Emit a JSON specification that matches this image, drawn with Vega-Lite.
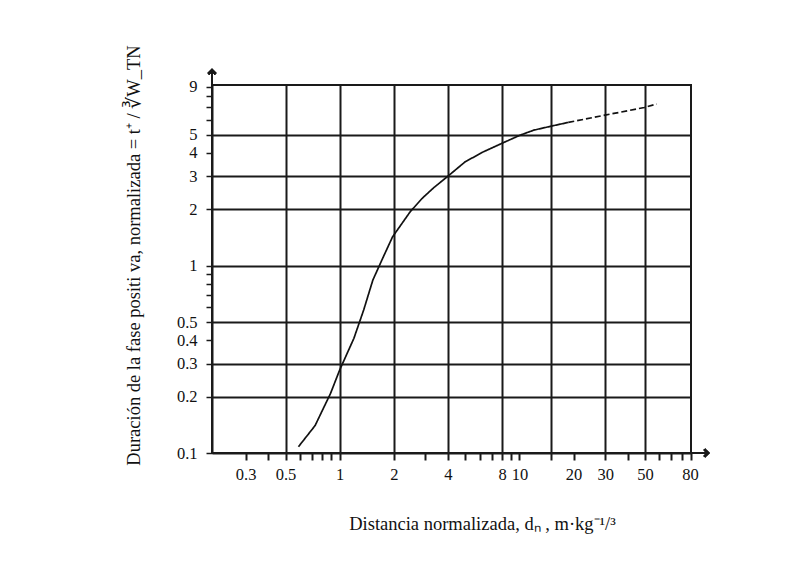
{
  "$schema": "https://vega.github.io/schema/vega-lite/v6.json",
  "width": 479,
  "height": 368,
  "autosize": {"type": "none"},
  "padding": {"left": 212, "top": 85, "right": 96, "bottom": 116},
  "background": "white",
  "config": {
    "view": {"stroke": "#1a1a1a", "strokeWidth": 2},
    "font": "Liberation Serif",
    "axis": {"domainColor": "#1a1a1a", "domainWidth": 2, "tickColor": "#1a1a1a", "gridColor": "#1a1a1a", "labelColor": "#111", "titleColor": "#111", "labelFont": "Liberation Serif", "titleFont": "Liberation Serif", "titleFontWeight": "normal"}
  },
  "datasets": {
    "curva": [
      {"d": 0.59, "t": 0.108, "tramo": "medido"},
      {"d": 0.73, "t": 0.14, "tramo": "medido"},
      {"d": 0.89, "t": 0.208, "tramo": "medido"},
      {"d": 1.0, "t": 0.277, "tramo": "medido"},
      {"d": 1.2, "t": 0.409, "tramo": "medido"},
      {"d": 1.36, "t": 0.579, "tramo": "medido"},
      {"d": 1.53, "t": 0.837, "tramo": "medido"},
      {"d": 1.75, "t": 1.114, "tramo": "medido"},
      {"d": 1.97, "t": 1.425, "tramo": "medido"},
      {"d": 2.47, "t": 1.94, "tramo": "medido"},
      {"d": 2.87, "t": 2.28, "tramo": "medido"},
      {"d": 3.33, "t": 2.6, "tramo": "medido"},
      {"d": 4.0, "t": 3.0, "tramo": "medido"},
      {"d": 4.99, "t": 3.58, "tramo": "medido"},
      {"d": 6.31, "t": 4.05, "tramo": "medido"},
      {"d": 7.98, "t": 4.49, "tramo": "medido"},
      {"d": 10.0, "t": 4.95, "tramo": "medido"},
      {"d": 12.0, "t": 5.28, "tramo": "medido"},
      {"d": 15.3, "t": 5.57, "tramo": "medido"},
      {"d": 18.7, "t": 5.81, "tramo": "medido"},
      {"d": 18.7, "t": 5.81, "tramo": "extrapolado"},
      {"d": 29.9, "t": 6.35, "tramo": "extrapolado"},
      {"d": 49.5, "t": 6.98, "tramo": "extrapolado"},
      {"d": 58, "t": 7.28, "tramo": "extrapolado"}
    ]
  },
  "data": {"name": "curva"},
  "resolve": {"axis": {"x": "independent", "y": "independent"}},
  "layer": [
    {
      "mark": {"type": "point", "opacity": 0},
      "encoding": {
        "x": {"field": "d", "type": "quantitative", "scale": {"type": "log", "domain": [0.195, 90], "nice": false},
          "axis": {"orient": "bottom", "grid": true, "gridWidth": 2, "values": [0.5, 1, 2, 4, 8, 15, 30, 50], "ticks": false, "labels": false, "domain": false, "title": null}},
        "y": {"field": "t", "type": "quantitative", "scale": {"type": "log", "domain": [0.1, 9.2], "nice": false},
          "axis": {"orient": "left", "grid": true, "gridWidth": 2, "values": [0.2, 0.3, 0.5, 1, 2, 3, 5], "ticks": false, "labels": false, "domain": false, "title": null}}
      }
    },
    {
      "mark": {"type": "line", "color": "#111", "strokeWidth": 1.7},
      "encoding": {
        "x": {"field": "d", "type": "quantitative",
          "axis": {"orient": "bottom", "grid": false, "values": [0.3, 0.4, 0.5, 0.6, 0.7, 0.8, 0.9, 1, 2, 3, 4, 5, 6, 7, 8, 9, 10, 15, 20, 30, 40, 50, 60, 70, 80, 90],
            "labelExpr": "indexof([0.3, 0.5, 1, 2, 4, 8, 10, 20, 30, 50, 80], datum.value) >= 0 ? '' + datum.value : ''",
            "labelOverlap": false, "labelFlush": false, "labelBound": false,
            "labelAlign": {"condition": {"test": "datum.value == 80", "value": "left"}, "value": "center"},
            "tickSize": 7, "tickWidth": 2, "labelPadding": 6, "labelFontSize": 16.5,
            "title": "Distancia normalizada,  dₙ ,  m·kg⁻¹/³", "titleFontSize": 18.5,
            "titleX": 270, "titleY": 70, "titleBaseline": "middle", "titleAlign": "center"}},
        "y": {"field": "t", "type": "quantitative",
          "axis": {"orient": "left", "grid": false, "values": [0.1, 0.2, 0.3, 0.4, 0.5, 0.6, 0.7, 0.8, 0.9, 1, 2, 3, 4, 5, 6, 7, 8, 9],
            "labelExpr": "indexof([0.1, 0.2, 0.3, 0.4, 0.5, 1, 2, 3, 4, 5, 9], datum.value) >= 0 ? '' + datum.value : ''",
            "labelOverlap": false, "labelFlush": false, "labelBound": false,
            "tickSize": 6, "tickWidth": 1.5, "labelPadding": 9, "labelFontSize": 16.5,
            "title": "Duración de la fase positi va, normalizada =  t⁺ / ∛W_TN", "titleFontSize": 18.5,
            "titleX": -79, "titleY": 170, "titleBaseline": "middle", "titleAlign": "center", "titleAngle": 270}},
        "strokeDash": {"field": "tramo", "type": "nominal", "scale": {"domain": ["medido", "extrapolado"], "range": [[1, 0], [6, 3]]}, "legend": null}
      }
    },
    {
      "mark": {"type": "rule", "color": "#1a1a1a", "strokeWidth": 2, "clip": false},
      "encoding": {
        "x": {"datum": 0.195, "type": "quantitative", "axis": null},
        "y": {"datum": 9.2, "type": "quantitative", "axis": null},
        "y2": {"datum": 11.05}
      }
    },
    {
      "mark": {"type": "rule", "color": "#1a1a1a", "strokeWidth": 2, "clip": false},
      "encoding": {
        "x": {"datum": 90, "type": "quantitative", "axis": null},
        "x2": {"datum": 111.9},
        "y": {"datum": 0.1, "type": "quantitative", "axis": null}
      }
    },
    {
      "mark": {"type": "point", "shape": "M-0.9,0.9L0,0L0.9,0.9", "filled": false, "stroke": "#1a1a1a", "strokeWidth": 2, "size": 64, "clip": false},
      "encoding": {
        "x": {"datum": 0.195, "type": "quantitative", "axis": null},
        "y": {"datum": 11.05, "type": "quantitative", "axis": null}
      }
    },
    {
      "mark": {"type": "point", "shape": "M-0.9,-0.9L0,0L-0.9,0.9", "filled": false, "stroke": "#1a1a1a", "strokeWidth": 2, "size": 64, "clip": false},
      "encoding": {
        "x": {"datum": 111.9, "type": "quantitative", "axis": null},
        "y": {"datum": 0.1, "type": "quantitative", "axis": null}
      }
    }
  ]
}
